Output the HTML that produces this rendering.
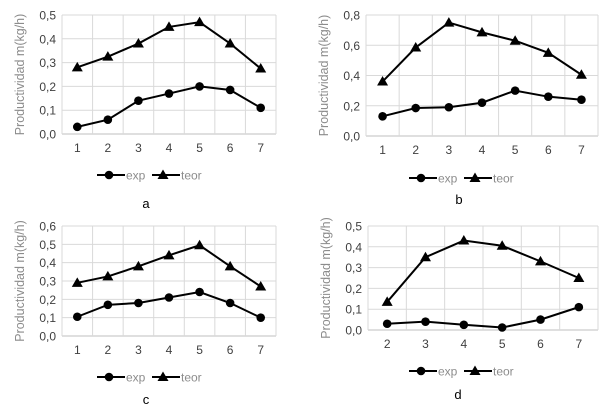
<!DOCTYPE html>
<html><head><meta charset="utf-8"><style>
html,body{margin:0;padding:0;background:#fff;}
svg{display:block;font-family:"Liberation Sans",sans-serif;}
</style></head><body>
<svg id="s" width="612" height="406" viewBox="0 0 612 406"></svg>
<script>
const catsA=[1,2,3,4,5,6,7];
const expA=[0.03,0.06,0.14,0.17,0.20,0.185,0.11];
const teorA=[0.28,0.325,0.38,0.45,0.47,0.38,0.275];
const ticksA=["0,0","0,1","0,2","0,3","0,4","0,5"];
const catsB=[1,2,3,4,5,6,7];
const expB=[0.13,0.185,0.19,0.22,0.30,0.26,0.24];
const teorB=[0.36,0.585,0.75,0.685,0.63,0.55,0.405];
const ticksB=["0,0","0,2","0,4","0,6","0,8"];
const catsC=[1,2,3,4,5,6,7];
const expC=[0.105,0.17,0.18,0.21,0.24,0.18,0.10];
const teorC=[0.29,0.325,0.38,0.44,0.495,0.38,0.27];
const ticksC=["0,0","0,1","0,2","0,3","0,4","0,5","0,6"];
const catsD=[2,3,4,5,6,7];
const expD=[0.03,0.04,0.025,0.012,0.05,0.11];
const teorD=[0.135,0.35,0.43,0.405,0.33,0.25];
const ticksD=["0,0","0,1","0,2","0,3","0,4","0,5"];

const NS="http://www.w3.org/2000/svg";
const svg=document.getElementById('s');
function mk(tag,attrs,parent){const e=document.createElementNS(NS,tag);for(const k in attrs)e.setAttribute(k,attrs[k]);(parent||svg).appendChild(e);return e;}

function chart(cfg){
  const g=mk('g',{});
  
  
  const {l,r,t,b,max,cats,exp,teor,ticks}=cfg;
  const band=(r-l)/cats.length;
  const xs=i=>l+band*(i+0.5);
  const ys=v=>b-(v/max)*(b-t);
  ticks.forEach((tk,i)=>{
    const v=max*i/(ticks.length-1);const y=ys(v);
    const ln=mk('line',{x1:l,x2:r,y1:y,y2:y,stroke:i==0?'#bfbfbf':'#d9d9d9','stroke-width':1},g);
    
    
    const tx=mk('text',{x:l-6,y:y+4.5,'text-anchor':'end','font-size':12,fill:'#404040'},g);
    tx.textContent=tk;
    
    
  });
  for(let i=1;i<=cats.length;i++){
    const x=l+band*i;
    const ln=mk('line',{x1:x,x2:x,y1:t,y2:b,stroke:'#d9d9d9','stroke-width':1},g);
    
    
  }
  mk('line',{x1:l,x2:l,y1:t,y2:b,stroke:'#d9d9d9'},g);
  cats.forEach((c,i)=>{
    const tx=mk('text',{x:xs(i),y:b+18,'text-anchor':'middle','font-size':12,fill:'#404040'},g);
    tx.textContent=c;
    
    
  });
  const yt=mk('text',{transform:`translate(${l-38},${(t+b)/2}) rotate(-90)`,'text-anchor':'middle','font-size':12.5,fill:'#8c8c8c'},g);
  yt.textContent='Productividad m(kg/h)';
  
  
  function series(vals,name,marker){
    const pts=vals.map((v,i)=>xs(i)+','+ys(v)).join(' ');
    const pl=mk('polyline',{points:pts,fill:'none',stroke:'#000','stroke-width':2},g);
    
    
    vals.forEach((v,i)=>{
      const m=marker(xs(i),ys(v));
      
      
    });
  }
  const circ=(x,y)=>mk('circle',{cx:x,cy:y,r:4.3,fill:'#000'},g);
  const tri=(x,y)=>mk('polygon',{points:`${x},${y-5.5} ${x-5.5},${y+4} ${x+5.5},${y+4}`,fill:'#000'},g);
  series(exp,'exp',circ);
  series(teor,'teor',tri);
  const lg=mk('g',{},g);
  
  
  const lx=cfg.lx, ly=cfg.ly;
  mk('line',{x1:lx-12,x2:lx+16,y1:ly,y2:ly,stroke:'#000','stroke-width':2},lg);
  circ(lx,ly); lg.appendChild(g.lastChild);
  let t1=mk('text',{x:lx+17,y:ly+4.5,'font-size':12,fill:'#8c8c8c'},lg);t1.textContent='exp';
  
  
  mk('line',{x1:lx+43,x2:lx+71,y1:ly,y2:ly,stroke:'#000','stroke-width':2},lg);
  tri(lx+54,ly); lg.appendChild(g.lastChild);
  let t2=mk('text',{x:lx+72,y:ly+4.5,'font-size':12,fill:'#8c8c8c'},lg);t2.textContent='teor';
  
  
  const cap=mk('text',{x:cfg.cx,y:cfg.cy,'text-anchor':'middle','font-size':13,fill:'#000'},g);
  cap.textContent=cfg.id;
  
  
}
chart({id:'a',l:62,r:276,t:15,b:134,max:0.5,cats:catsA,exp:expA,teor:teorA,ticks:ticksA,lx:109,ly:175,cx:146,cy:208});
chart({id:'b',l:366,r:598,t:15,b:136,max:0.8,cats:catsB,exp:expB,teor:teorB,ticks:ticksB,lx:421,ly:178,cx:459,cy:204});
chart({id:'c',l:62,r:276,t:226,b:336,max:0.6,cats:catsC,exp:expC,teor:teorC,ticks:ticksC,lx:109,ly:377,cx:146,cy:404});
chart({id:'d',l:368,r:598,t:226,b:330,max:0.5,cats:catsD,exp:expD,teor:teorD,ticks:ticksD,lx:421,ly:371,cx:458,cy:399});
</script>
</body></html>
